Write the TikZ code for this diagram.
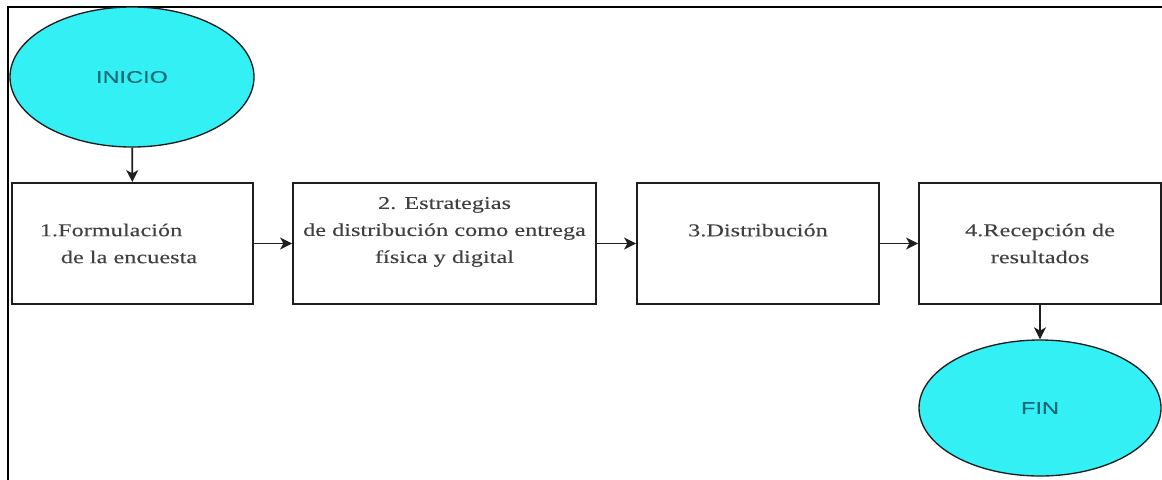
\documentclass[tikz,border=0pt]{standalone}
\usepackage{fontspec}
\setmainfont{Liberation Serif}[FakeStretch=1.35, FakeBold=0.15]
\newfontfamily\termfont{Liberation Sans}[FakeStretch=1.4, FakeBold=0.2]
\usetikzlibrary{arrows.meta}
\usetikzlibrary{shapes.geometric}
\definecolor{cian}{RGB}{51,240,245}
\definecolor{tinta}{RGB}{25,105,118}
\definecolor{trazo}{RGB}{30,30,30}
\tikzset{
      terminal/.style={ellipse, draw=trazo, fill=cian, line width=1pt, inner sep=0pt,
            font=\termfont\fontsize{12.6}{15}\selectfont, text=tinta},
      etapa/.style={rectangle, draw=trazo, line width=1.4pt, inner sep=0pt,
            minimum height=90.75pt, align=center, text=black!75,
            font=\fontsize{13.5}{20.25}\selectfont},
      flecha/.style={draw=trazo, line width=1.4pt, -{Stealth[length=9pt,width=9pt,inset=2.5pt]}},
      marco/.style={draw=black, line cap=rect},
}
\begin{document}
\begin{tikzpicture}[x=0.75pt, y=-0.75pt]
        \useasboundingbox (0,0) rectangle (1162,479);

        % Frame
        \draw[marco, line width=1.2pt] (8,7) -- (1162,7);
        \draw[marco, line width=2.2pt] (8,7) -- (8,479);

        % Start and end
        \node[terminal, minimum width=183pt, minimum height=105pt] (inicio) at (132,77) {INICIO};
        \node[terminal, minimum width=181.5pt, minimum height=102pt] (fin) at (1040,408) {FIN};

        % Steps
        \node[etapa, minimum width=180.75pt, align=left] (paso1) at (132.5,243.5)
              {1.Formulación\rule{21pt}{0pt}\\\hspace*{15.75pt}de la encuesta\rule{21pt}{0pt}};
        \node[etapa, minimum width=227.25pt] (paso2) at (444.5,243.5)
              {2. Estrategias\\de distribución como entrega\\física y digital\\\mbox{}};
        \node[etapa, minimum width=181.5pt] (paso3) at (758,243.5) {3.Distribución\\\mbox{}};
        \node[etapa, minimum width=181.5pt] (paso4) at (1040,243.5) {4.Recepción de\\resultados};

        % Arrows
        \draw[flecha] (inicio) -- (paso1);
        \draw[flecha] (paso1) -- (paso2);
        \draw[flecha] (paso2) -- (paso3);
        \draw[flecha] (paso3) -- (paso4);
        \draw[flecha] (paso4) -- (fin);

    \end{tikzpicture}
\end{document}
